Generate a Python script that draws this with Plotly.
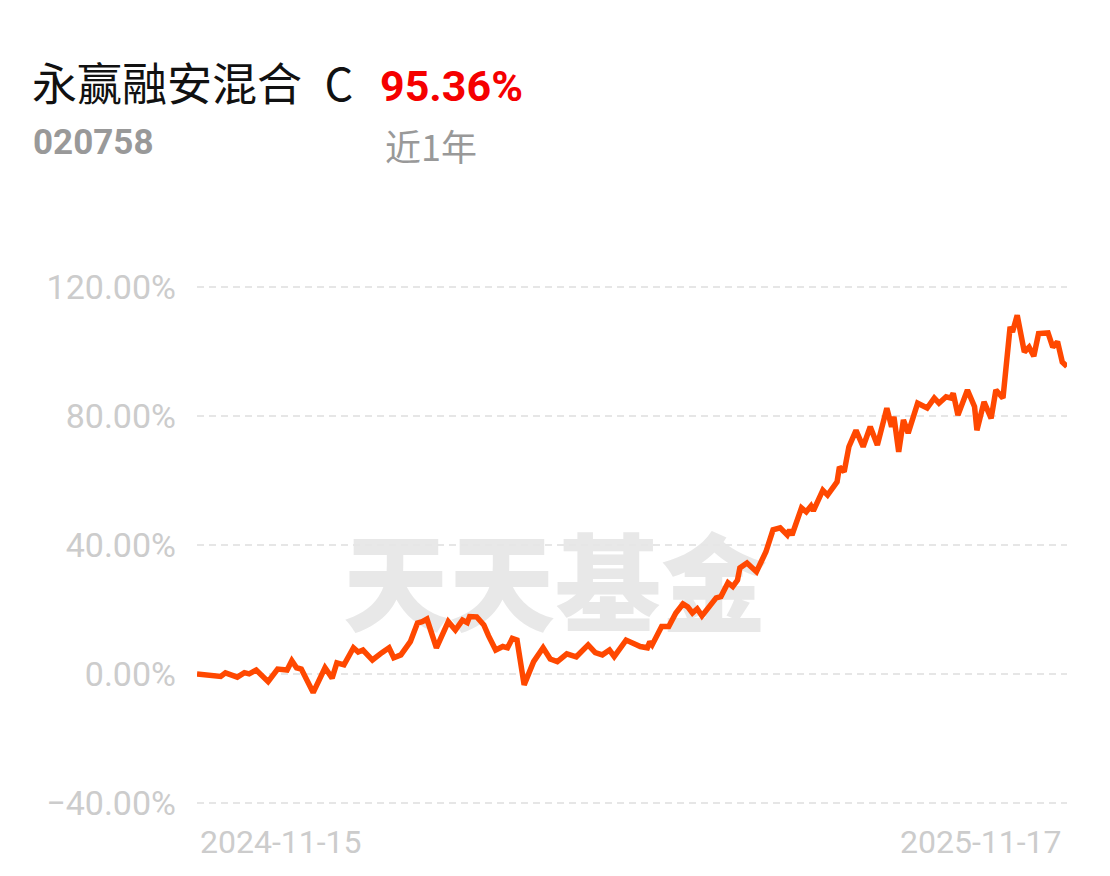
import plotly.graph_objects as go

# ---- data ----
dates = [
    "2024-11-15", "2024-11-20", "2024-11-25", "2024-11-27", "2024-12-02", "2024-12-05",
    "2024-12-07", "2024-12-10", "2024-12-15", "2024-12-19", "2024-12-23", "2024-12-25",
    "2024-12-27", "2024-12-29", "2025-01-03", "2025-01-08", "2025-01-11", "2025-01-13",
    "2025-01-16", "2025-01-20", "2025-01-22", "2025-01-24", "2025-01-28", "2025-02-01",
    "2025-02-04", "2025-02-06", "2025-02-09", "2025-02-13", "2025-02-16", "2025-02-18",
    "2025-02-20", "2025-02-24", "2025-03-01", "2025-03-04", "2025-03-07", "2025-03-09",
    "2025-03-10", "2025-03-13", "2025-03-16", "2025-03-18", "2025-03-21", "2025-03-24",
    "2025-03-26", "2025-03-28", "2025-03-30", "2025-04-02", "2025-04-06", "2025-04-10",
    "2025-04-13", "2025-04-16", "2025-04-20", "2025-04-24", "2025-04-29", "2025-05-02",
    "2025-05-05", "2025-05-08", "2025-05-10", "2025-05-15", "2025-05-18", "2025-05-21",
    "2025-05-24", "2025-05-25", "2025-05-26", "2025-05-30", "2025-06-02", "2025-06-05",
    "2025-06-08", "2025-06-10", "2025-06-12", "2025-06-14", "2025-06-16", "2025-06-19",
    "2025-06-22", "2025-06-24", "2025-06-27", "2025-06-29", "2025-07-01", "2025-07-02",
    "2025-07-05", "2025-07-09", "2025-07-13", "2025-07-16", "2025-07-19", "2025-07-22",
    "2025-07-23", "2025-07-24", "2025-07-28", "2025-07-30", "2025-08-01", "2025-08-02",
    "2025-08-06", "2025-08-08", "2025-08-12", "2025-08-13", "2025-08-15", "2025-08-17",
    "2025-08-20", "2025-08-23", "2025-08-26", "2025-08-29", "2025-08-31", "2025-09-02",
    "2025-09-04", "2025-09-05", "2025-09-07", "2025-09-09", "2025-09-11", "2025-09-15",
    "2025-09-19", "2025-09-22", "2025-09-24", "2025-09-27", "2025-09-29", "2025-09-30",
    "2025-10-02", "2025-10-06", "2025-10-09", "2025-10-10", "2025-10-13", "2025-10-16",
    "2025-10-18", "2025-10-21", "2025-10-24", "2025-10-25", "2025-10-27", "2025-10-30",
    "2025-11-01", "2025-11-03", "2025-11-05", "2025-11-09", "2025-11-11", "2025-11-13",
    "2025-11-15", "2025-11-17",
]
returns = [
    0.0, -0.3, -0.8, 0.3, -1.0, 0.4,
    0.0, 1.2, -2.4, 1.5, 1.2, 4.1,
    1.9, 1.5, -5.8, 1.9, -1.3, 3.4,
    2.8, 8.1, 6.8, 7.4, 4.3, 6.6,
    8.1, 5.0, 5.9, 10.0, 15.8, 16.2,
    17.0, 8.1, 16.2, 13.6, 16.7, 15.9,
    17.8, 17.7, 15.2, 11.8, 7.4, 8.5,
    8.1, 11.0, 10.5, -3.4, 3.8, 8.1,
    4.6, 3.8, 6.2, 5.3, 9.0, 6.6,
    5.9, 7.4, 5.4, 10.5, 9.6, 8.5,
    8.1, 10.0, 9.0, 14.7, 14.7, 18.9,
    21.7, 20.8, 18.9, 20.2, 18.0, 20.5,
    23.6, 24.0, 28.3, 27.1, 29.1, 32.9,
    34.4, 31.7, 37.9, 44.7, 45.3, 43.1,
    44.7, 43.1, 51.5, 50.3, 52.1, 50.6,
    57.0, 55.5, 59.6, 64.2, 62.7, 70.5,
    75.6, 70.5, 76.7, 71.0, 77.2, 82.5,
    76.7, 79.8, 68.9, 78.8, 74.7, 84.0,
    82.5, 85.6, 84.0, 86.0, 85.6, 87.1,
    80.3, 88.1, 82.9, 75.6, 84.4, 79.3,
    88.1, 85.6, 107.7, 106.1, 111.3, 99.9,
    101.4, 98.6, 105.6, 105.8, 101.4, 103.1,
    96.8, 95.36,
]
ytick_vals = [-40, 0, 40, 80, 120]
ytick_labels = ["\u221240.00%", "0.00%", "40.00%", "80.00%", "120.00%"]
xtick_labels = ["2024-11-15", "2025-11-17"]
fund_name = "永赢融安混合\u2002C"
fund_code = "020758"
period_return = "95.36%"
period_label = "近1年"
watermark = "天天基金"

LINE = "#ff4800"
GRID = "#e6e6e6"
TICK = "#cccccc"
CJK = "Noto Sans CJK SC"

# page body has an 8px margin; plot area in page pixels: x 197..1067, y 283.8..806.3
PAGE_OFF = 8
PL, PR = 197.0, 1067.0
PT, PB = 283.8, 806.3

fig = go.Figure()
fig.add_trace(go.Scatter(
    x=dates, y=returns, mode="lines",
    line=dict(color=LINE, width=5.5),
    hoverinfo="skip", showlegend=False,
))

W, H = 1110 - PAGE_OFF, 876 - PAGE_OFF
fig.update_layout(
    width=W, height=H,
    margin=dict(l=PL - PAGE_OFF, r=W - (PR - PAGE_OFF),
                t=PT - PAGE_OFF, b=H - (PB - PAGE_OFF)),
    paper_bgcolor="white", plot_bgcolor="white",
    showlegend=False,
    xaxis=dict(
        type="date", range=[dates[0], dates[-1]],
        showgrid=False, zeroline=False, showline=False,
        showticklabels=False, ticks="",
    ),
    yaxis=dict(
        range=[-41, 121], tickvals=ytick_vals, ticktext=ytick_labels,
        showgrid=True, gridcolor=GRID, gridwidth=2, griddash="7px,5px",
        zeroline=False, showline=False, ticks="",
        ticklabelstandoff=20,
        tickfont=dict(family="Roboto", size=34, color=TICK),
    ),
)

def px_x(p):
    return (p - PL) / (PR - PL)

def px_y(p):
    return (PB - p) / (PB - PT)

fig.update_layout(shapes=[dict(
    type="rect", xref="paper", yref="paper",
    x0=px_x(315), x1=px_x(795), y0=px_y(664), y1=px_y(524),
    line=dict(width=0), fillcolor="rgba(0,0,0,0)", layer="below",
    label=dict(text=watermark, textposition="middle center",
               font=dict(family=CJK, size=106, color="#e8e8e8", weight=900)),
)])

annotations = [
    dict(text=fund_name, x=px_x(30), y=px_y(81), xanchor="left", yanchor="middle",
         font=dict(family=CJK, size=45, color="#111111")),
    dict(text=period_return, x=px_x(378), y=px_y(86), xanchor="left", yanchor="middle",
         font=dict(family="Roboto", size=43, color="#f50000", weight="bold")),
    dict(text=fund_code, x=px_x(31), y=px_y(142), xanchor="left", yanchor="middle",
         font=dict(family="Roboto", size=35, color="#999999", weight="bold")),
    dict(text=period_label, x=px_x(383), y=px_y(145), xanchor="left", yanchor="middle",
         font=dict(family=CJK, size=36, color="#999999")),
    dict(text=xtick_labels[0], x=px_x(198), y=px_y(842), xanchor="left", yanchor="middle",
         font=dict(family="Roboto", size=32, color=TICK)),
    dict(text=xtick_labels[1], x=px_x(1064), y=px_y(842), xanchor="right", yanchor="middle",
         font=dict(family="Roboto", size=32, color=TICK)),
]
for a in annotations:
    a.update(xref="paper", yref="paper", showarrow=False)
fig.update_layout(annotations=annotations)

fig.write_html("out.html")
